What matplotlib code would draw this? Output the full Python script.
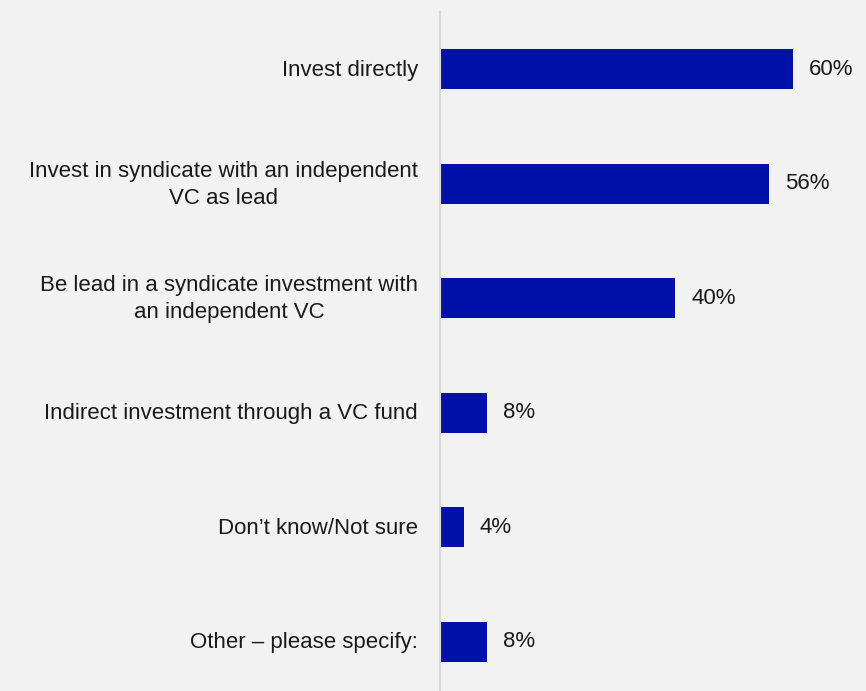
import matplotlib
matplotlib.use("Agg")
from matplotlib import pyplot as plt
from matplotlib import transforms

plt.rcParams['font.family'] = ['Liberation Sans', 'DejaVu Sans']

# survey answers, top to bottom
labels = ["Invest directly",
          "Invest in syndicate with an independent\nVC as lead",
          "Be lead in a syndicate investment with\nan independent VC",
          "Indirect investment through a VC fund",
          "Don\u2019t know/Not sure",
          "Other \u2013 please specify:"]
values = [60, 56, 40, 8, 4, 8]

bg = '#f2f2f2'
fig = plt.figure(figsize=(8.66, 6.91), dpi=100, facecolor=bg)
ax = fig.add_axes([440/866, 0, 426/866, 679/691], facecolor=bg)

ypos = list(range(len(values)))
ax.barh(ypos, values, height=0.35, color='#0011aa')

for y, v in zip(ypos, values):
    ax.annotate(f"{v}%", (v, y), xytext=(11.5, 0), textcoords='offset points',
                va='center', ha='left', fontsize=16, color='#1a1a1a')

# category names, right-aligned against the axis line
shift = transforms.offset_copy(ax.transData, fig=fig, x=-22, y=-1, units='dots')
for y, lab in zip(ypos, labels):
    ax.text(0, y, lab, transform=shift, ha='right', va='center',
            multialignment='center', linespacing=1.38,
            fontsize=16, color='#1a1a1a')

ax.set_xlim(0, 426/5.88)
ax.set_ylim(5.43, -0.5)
ax.set_xticks([])
ax.set_yticks([])

for s in ['top', 'right', 'bottom']:
    ax.spines[s].set_visible(False)
ax.spines['left'].set_color('#d9d9d9')
ax.spines['left'].set_linewidth(1.5)

fig.savefig("out.png", dpi=100, facecolor=bg)
